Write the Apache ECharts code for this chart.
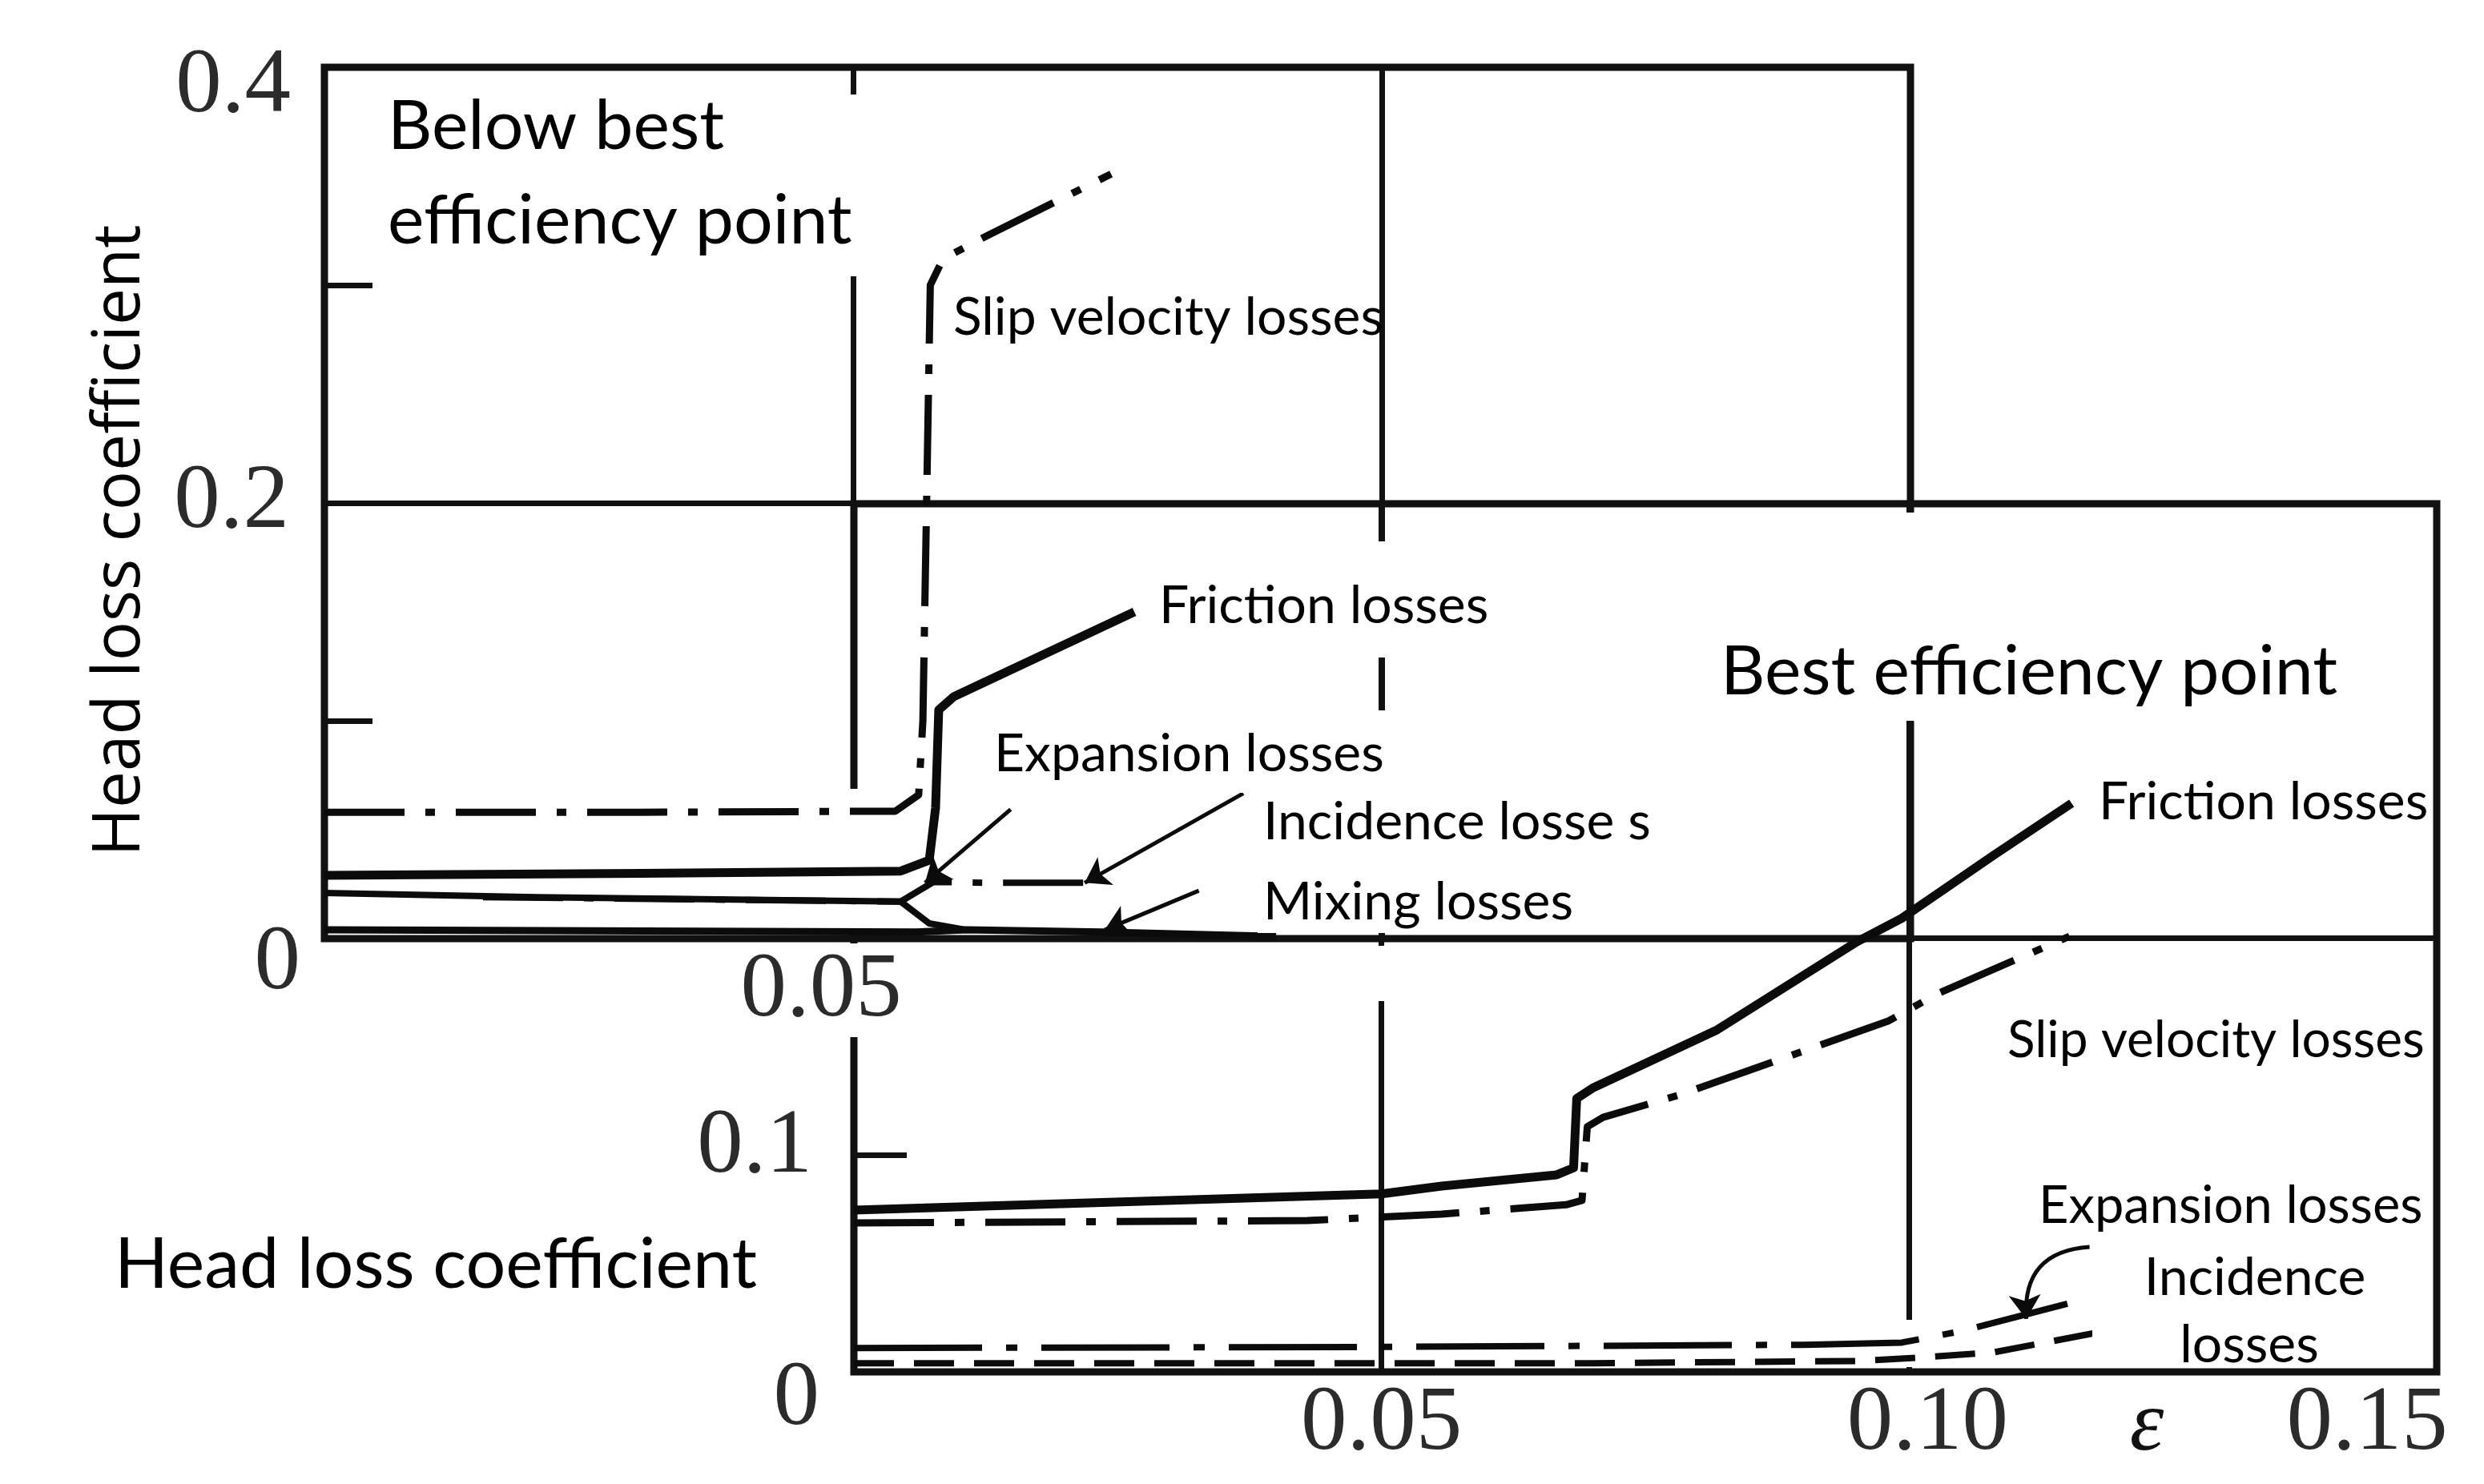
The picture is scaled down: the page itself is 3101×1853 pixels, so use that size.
<!DOCTYPE html>
<html>
<head>
<meta charset="utf-8">
<script src="https://cdn.jsdelivr.net/npm/echarts@6/dist/echarts.min.js"></script>
<style>
html,body{margin:0;padding:0;background:#fff;}
#c{width:3101px;height:1853px;}
</style>
</head>
<body>
<div id="c"></div>
<script>
// ---------- axis ticks / labels ----------
const topYLabelValues = [0, 0.2, 0.4];
const topYMinorTicks = [0.1, 0.3];
const topXLabelValues = [0.05];
const bottomYLabelValues = [0, 0.1];
const bottomYMinorTicks = [0.1];
const bottomXLabelValues = [0.05, 0.10, 0.15];

// ---------- upper chart: below best efficiency point ----------
const topSlip = [[0,0.058],[0.03,0.058],[0.054,0.0585],[0.0562,0.066],[0.0566,0.10],[0.0573,0.300],[0.0585,0.312],[0.0628,0.323],[0.0744,0.351]];
const topFriction = [[0,0.029],[0.03,0.030],[0.0545,0.031],[0.0572,0.036],[0.0578,0.06],[0.0581,0.105],[0.0595,0.111],[0.0766,0.150]];
const topIncidence = [[0.015,0.019],[0.035,0.018],[0.0545,0.017],[0.0576,0.026],[0.0634,0.0256],[0.0735,0.0256]];
const topExpansion = [[0,0.021],[0.02,0.019],[0.0545,0.017],[0.0572,0.007],[0.0607,0.004]];
const topMixing = [[0,0.004],[0.056,0.003],[0.0607,0.004],[0.0735,0.003],[0.09,0.001]];

// ---------- lower chart: best efficiency point ----------
const bottomFriction = [[0,0.0745],[0.05,0.082],[0.0557,0.0856],[0.0666,0.0908],[0.0682,0.094],[0.0685,0.126],[0.0701,0.131],[0.0818,0.1576],[0.095,0.198],[0.0993,0.209],[0.108,0.238],[0.1154,0.262]];
const bottomSlip = [[0,0.0686],[0.043,0.0697],[0.0557,0.0727],[0.0675,0.077],[0.069,0.079],[0.0695,0.113],[0.071,0.1173],[0.0783,0.1277],[0.098,0.1616],[0.1028,0.1745],[0.1152,0.2007]];
const bottomExpansion = [[0,0.011],[0.05,0.0115],[0.09,0.0125],[0.0993,0.0135],[0.105,0.0188],[0.115,0.0314]];
const bottomIncidence = [[0,0.004],[0.07,0.004],[0.095,0.005],[0.1006,0.0065],[0.108,0.009],[0.1174,0.0177]];

// ---------- leader arrows (data coordinates) ----------
const topArrows = [
  [[0.0649,0.0593],[0.0568,0.0256]],
  [[0.0869,0.0667],[0.0719,0.0256]],
  [[0.0827,0.0220],[0.0738,0.0040]]
];
const bottomCurvedArrows = [[[0.1171,0.0576],[0.1111,0.0244]]];
const bottomArrows = [[[0.1205,0.0190],[0.1172,0.0178]]];

// ---------- styles ----------
const INK = '#0b0b0b';
const dashDot = [100, 26, 12, 26];
const longDashDot = [160, 30, 14, 30];
const tickFont = {fontFamily:'"Liberation Serif","Times New Roman",serif', fontSize:115, color:'#2b2b2b'};
const frameLine = {color:'#111', width:7};

function lineSeries(name, data, gi, width, type, extra) {
  return Object.assign({
    type:'line', name:name, xAxisIndex:gi, yAxisIndex:gi, data:data,
    showSymbol:false, symbol:'none', silent:true, z:2,
    lineStyle:{color:INK, width:width, type:type, cap:'butt', join:'round'}
  }, extra || {});
}
function arrowMarks(list) {
  return {
    silent:true, symbol:['none','arrow'], symbolSize:30, animation:false,
    label:{show:false},
    lineStyle:{color:INK, width:5, type:'solid'},
    data:list.map(a => [{coord:a[0]},{coord:a[1]}])
  };
}

// ---------- annotation texts ----------
const LATO = 'Lato, "Open Sans", sans-serif';
const textItems = [
  {t:'Below best\nefficiency point', x:484, y:217, s:86, lh:118},
  {t:'Slip velocity losses', x:1190, y:397, s:66},
  {t:'Friction losses', x:1447, y:757, s:66},
  {t:'Expansion losses', x:1241, y:942, s:66},
  {t:'Incidence losse s', x:1577, y:1027, s:66},
  {t:'Mixing losses', x:1577, y:1127, s:66},
  {t:'Best efficiency point', x:2148, y:839, s:86},
  {t:'Friction losses', x:2620, y:1002, s:66},
  {t:'Slip velocity losses', x:2506, y:1299, s:64},
  {t:'Expansion losses', x:2545, y:1506, s:65},
  {t:'Incidence', x:2815, y:1596, s:66, a:'center'},
  {t:'losses', x:2808, y:1680, s:66, a:'center'},
  {t:'Head loss coefficient', x:143, y:1580, s:88}
];
// white label boxes [x1,y1,x2,y2]
const labelBoxes = [
  [470,118,1082,345],[1182,362,1716,432],[1440,676,1860,821],[1234,887,1740,990],
  [1570,990,2060,1088],[1570,1088,1980,1165],[2140,640,2945,900],[2612,965,3030,1040],
  [2498,1262,3030,1338],[2537,1468,3025,1545],[2612,1545,3000,1706]
];
// gaps in grid lines (under the curves)
const lineGaps = [[1052,985,1080,1166],[1712,1181,1738,1250],[2370,1648,2396,1707]];

const graphics = [];
lineGaps.forEach(b => graphics.push({type:'rect', silent:true, z:1.5,
  shape:{x:b[0], y:b[1], width:b[2]-b[0], height:b[3]-b[1]}, style:{fill:'#fff'}}));
labelBoxes.forEach(b => graphics.push({type:'rect', silent:true, z:9,
  shape:{x:b[0], y:b[1], width:b[2]-b[0], height:b[3]-b[1]}, style:{fill:'#fff'}}));
textItems.forEach(it => graphics.push({type:'text', silent:true, z:10, x:it.x, y:it.y,
  style:{text:it.t, fill:'#000', fontFamily:LATO, fontSize:it.s, lineHeight:it.lh || it.s*1.2,
         align:it.a || 'left', verticalAlign:'middle'}}));
graphics.push({type:'text', silent:true, z:10, x:151, y:675, rotation:Math.PI/2,
  style:{text:'Head loss coefficient', fill:'#000', fontFamily:'"Open Sans", sans-serif', fontSize:82,
         align:'center', verticalAlign:'middle'}});
graphics.push({type:'text', silent:true, z:10, x:2680, y:1782,
  style:{text:'ε', fill:'#111', fontFamily:'"Liberation Serif", serif', fontSize:108, fontStyle:'italic',
         align:'center', verticalAlign:'middle'}});

const chart = echarts.init(document.getElementById('c'), null, {renderer:'canvas', width:3101, height:1853});

// helper: tick-only y axis on the left edge (short inward ticks, no lines / labels)
function tickAxis(gi, values, len) {
  return {type:'value', gridIndex:gi, position:'left', offset:0, min:0, max:0.4, interval:0.1,
    axisLine:{show:false, onZero:false}, splitLine:{show:false}, axisLabel:{show:false},
    axisTick:{show:true, inside:true, customValues:values, length:len, lineStyle:frameLine}};
}

const option = {
  backgroundColor:'#fff',
  animation:false,
  grid:[
    {left:405, top:84, width:1980, height:1088, show:true, borderColor:'#111', borderWidth:9,
     backgroundColor:'rgba(0,0,0,0)', containLabel:false, outerBoundsMode:'none'},
    {left:1066, top:629, width:1976, height:1084, show:true, borderColor:'#111', borderWidth:9,
     backgroundColor:'rgba(0,0,0,0)', containLabel:false, outerBoundsMode:'none'}
  ],
  xAxis:[
    {type:'value', gridIndex:0, min:0, max:0.15, interval:0.05, z:1,
     axisLine:{show:false}, axisTick:{show:false},
     splitLine:{show:true, lineStyle:frameLine},
     axisLabel:{customValues:topXLabelValues, margin:6, backgroundColor:'#fff', padding:[2,10,0,10],
       formatter:v => '{a|' + v.toFixed(2) + '}',
       rich:{a:Object.assign({}, tickFont, {padding:[0,80,0,0]})}}},
    {type:'value', gridIndex:1, min:0, max:0.15, interval:0.05, z:0,
     axisLine:{show:false}, axisTick:{show:false},
     splitLine:{show:true, lineStyle:frameLine},
     axisLabel:{customValues:bottomXLabelValues, margin:8,
       formatter:v => { const s = v.toFixed(2); const k = s === '0.05' ? 'a' : (s === '0.10' ? 'b' : 'c'); return '{' + k + '|' + s + '}'; },
       rich:{a:Object.assign({}, tickFont),
             b:Object.assign({}, tickFont, {padding:[0,0,0,46]}),
             c:Object.assign({}, tickFont, {padding:[0,174,0,0]})}}}
  ],
  yAxis:[
    {type:'value', gridIndex:0, position:'left', min:0, max:0.4, interval:0.2,
     axisLine:{show:false}, axisTick:{show:false},
     splitLine:{show:true, lineStyle:frameLine},
     axisLabel:{customValues:topYLabelValues, margin:30,
       formatter:v => v === 0 ? '{z|0}' : (v > 0.3 ? '{t|0.4}' : '{m|0.2}'),
       rich:{t:Object.assign({}, tickFont, {padding:[50,12,0,0]}),
             m:Object.assign({}, tickFont, {padding:[0,14,0,0]}),
             z:Object.assign({}, tickFont, {padding:[64,0,0,0]})}}},
    {type:'value', gridIndex:1, position:'left', min:0, max:0.4, interval:0.2,
     axisLine:{show:false}, axisTick:{show:false},
     splitLine:{show:true, lineStyle:frameLine},
     axisLabel:{customValues:bottomYLabelValues, margin:43,
       formatter:v => v === 0 ? '{z|0}' : '{a|0.1}',
       rich:{a:Object.assign({}, tickFont, {padding:[0,9,18,0]}),
             z:Object.assign({}, tickFont, {padding:[70,0,0,0]})}}},
    tickAxis(0, topYMinorTicks, 60),
    tickAxis(1, bottomYMinorTicks, 66)
  ],
  graphic:graphics,
  series:[
    lineSeries('Slip velocity losses', topSlip, 0, 9, dashDot),
    lineSeries('Friction losses', topFriction, 0, 11, 'solid'),
    lineSeries('Incidence losses', topIncidence, 0, 8, dashDot),
    lineSeries('Expansion losses', topExpansion, 0, 8, 'solid'),
    lineSeries('Mixing losses', topMixing, 0, 9, 'solid', {markLine:arrowMarks(topArrows)}),
    lineSeries('Friction losses (BEP)', bottomFriction, 1, 11, 'solid'),
    lineSeries('Slip velocity losses (BEP)', bottomSlip, 1, 9, dashDot),
    lineSeries('Expansion losses (BEP)', bottomExpansion, 1, 8, longDashDot),
    lineSeries('Incidence losses (BEP)', bottomIncidence, 1, 8, [50,25], {markLine:arrowMarks(bottomArrows)}),
    {type:'lines', name:'Expansion leader', coordinateSystem:'cartesian2d', xAxisIndex:1, yAxisIndex:1,
     silent:true, z:3, symbol:['none','arrow'], symbolSize:30, polyline:false,
     lineStyle:{color:INK, width:5, curveness:-0.5, opacity:1},
     data:bottomCurvedArrows.map(a => ({coords:[a[0], a[1]]}))}
  ]
};
chart.setOption(option);
</script>
</body>
</html>
